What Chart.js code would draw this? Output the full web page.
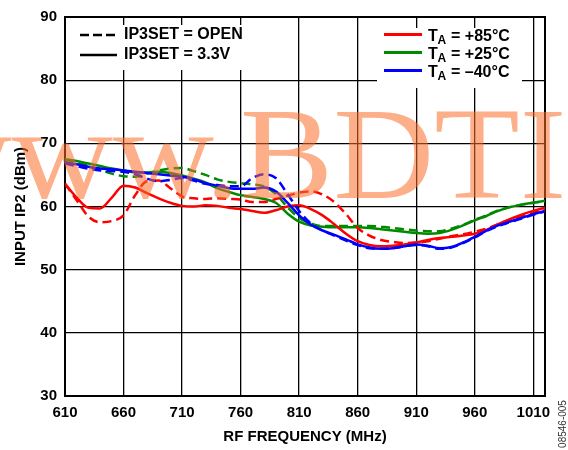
<!DOCTYPE html>
<html>
<head>
<meta charset="utf-8">
<script src="https://cdn.jsdelivr.net/npm/chart.js@4.4.0/dist/chart.umd.min.js"></script>
<style>
html,body{margin:0;padding:0;background:#fff;}
</style>
</head>
<body>
<canvas id="ip2chart" width="568" height="450"></canvas>
<script>
// RF frequency (MHz)
const freq = [610,620,630,640,650,660,670,680,690,700,710,720,730,740,750,760,770,780,790,800,
              810,820,830,840,850,860,870,880,890,900,910,920,930,940,950,960,970,980,990,1000,1010,1020];

// input IP2 (dBm), IP3SET = 3.3V (solid)
const red33   = [63.6,61.4,59.8,59.7,61.4,63.3,63.0,62.1,61.3,60.6,60.1,60.0,60.2,60.1,59.8,59.6,59.3,59.0,59.4,60.0,
                 60.2,59.6,58.6,57.2,55.7,54.5,53.9,53.7,53.8,54.0,54.3,54.7,55.0,55.2,55.4,55.7,56.3,57.2,58.0,58.7,59.3,59.8];
const green33 = [67.5,67.2,66.8,66.4,66.0,65.7,65.4,65.4,65.5,65.3,64.9,64.4,63.8,62.9,62.3,61.8,61.5,61.2,60.6,58.9,
                 57.6,57.0,56.8,56.7,56.7,56.7,56.6,56.4,56.2,56.0,55.8,55.7,55.8,56.3,57.0,57.8,58.5,59.3,59.9,60.3,60.6,60.9];
const blue33  = [67.0,66.7,66.3,66.0,65.9,65.7,65.5,65.3,65.1,64.9,64.7,64.3,63.7,63.3,62.9,62.8,62.8,63.0,62.4,60.6,
                 58.6,57.1,56.2,55.5,54.8,54.0,53.5,53.3,53.4,53.7,54.0,53.8,53.4,53.6,54.3,55.2,56.2,57.0,57.6,58.2,58.8,59.3];

// input IP2 (dBm), IP3SET = OPEN (dashed)
const redOpen   = [63.6,61.0,58.4,57.5,57.7,58.6,61.8,64.0,64.1,62.9,61.6,61.3,61.2,61.3,61.2,61.1,60.7,60.7,61.2,61.7,
                   62.2,62.4,61.9,60.7,58.8,56.6,55.4,54.7,54.4,54.2,54.3,54.5,54.9,55.3,55.6,56.0,56.5,57.2,57.9,58.5,59.0,59.5];
const greenOpen = [67.4,67.0,66.4,65.8,65.2,64.8,64.7,65.2,65.7,66.0,66.1,65.6,65.0,64.3,63.9,63.7,63.5,63.2,62.0,59.9,
                   58.2,57.3,56.9,56.9,56.9,56.9,56.9,56.8,56.6,56.4,56.2,56.1,56.1,56.5,57.1,57.9,58.6,59.4,59.9,60.3,60.6,60.8];
const blueOpen  = [66.8,66.4,66.0,65.7,65.6,65.5,65.1,64.4,64.0,64.2,64.5,64.1,63.6,63.4,63.2,63.2,64.5,65.1,64.5,62.0,
                   59.3,57.3,56.2,55.4,54.6,53.9,53.4,53.3,53.4,53.7,53.9,53.7,53.3,53.5,54.2,55.1,56.1,56.9,57.5,58.1,58.7,59.2];

const xTicks = [610,660,710,760,810,860,910,960,1010,1020];
const tempLabels = ['+85°C', '+25°C', '–40°C'];

const RED = '#ff0000', GREEN = '#008a00', BLUE = '#0000ff';
const FONT = "'Liberation Sans', Arial, sans-serif";

function pts(arr) {
  return arr.map((v, i) => ({x: freq[i], y: v}));
}
function line(label, arr, color, dashed) {
  return {
    label: label,
    data: pts(arr),
    borderColor: color,
    borderWidth: 2.5,
    borderDash: dashed ? [9, 5] : [],
    pointRadius: 0,
    fill: false,
    cubicInterpolationMode: 'monotone'
  };
}

const extras = {
  id: 'extras',
  beforeDatasetsDraw(chart) {
    const ctx = chart.ctx, a = chart.chartArea;
    ctx.save();
    // white boxes behind the two legends
    ctx.fillStyle = '#fff';
    ctx.fillRect(67, 25, 180, 45);
    ctx.fillRect(377, 28, 145, 60);
    ctx.strokeStyle = '#000';
    ctx.lineWidth = 2;
    ctx.strokeRect(a.left, a.top, a.right - a.left, a.bottom - a.top);
    ctx.restore();
  },
  afterDraw(chart) {
    const ctx = chart.ctx;
    ctx.save();
    // left legend: line styles
    ctx.strokeStyle = '#000';
    ctx.lineWidth = 2.5;
    ctx.setLineDash([9, 4]);
    ctx.beginPath(); ctx.moveTo(80, 35); ctx.lineTo(117, 35); ctx.stroke();
    ctx.setLineDash([]);
    ctx.beginPath(); ctx.moveTo(80, 55); ctx.lineTo(117, 55); ctx.stroke();
    ctx.fillStyle = '#000';
    ctx.font = 'bold 16px ' + FONT;
    ctx.textBaseline = 'middle';
    ctx.textAlign = 'left';
    ctx.fillText('IP3SET = OPEN', 124, 35);
    ctx.fillText('IP3SET = 3.3V', 124, 55);

    // right legend: temperatures
    const cols = [RED, GREEN, BLUE];
    const rows = [34.5, 52.5, 70.5];
    for (let i = 0; i < 3; i++) {
      const y = rows[i];
      ctx.strokeStyle = cols[i];
      ctx.lineWidth = 3;
      ctx.beginPath(); ctx.moveTo(384, y); ctx.lineTo(422, y); ctx.stroke();
      ctx.fillStyle = '#000';
      ctx.font = 'bold 16px ' + FONT;
      ctx.textBaseline = 'alphabetic';
      ctx.fillText('T', 428, y + 6);
      ctx.font = 'bold 12px ' + FONT;
      ctx.fillText('A', 437.5, y + 9);
      ctx.font = 'bold 16px ' + FONT;
      ctx.fillText('= ' + tempLabels[i], 451, y + 6);
    }

    // figure code on the right edge
    ctx.translate(563, 424);
    ctx.rotate(-Math.PI / 2);
    ctx.font = '10px ' + FONT;
    ctx.fillStyle = '#333';
    ctx.textAlign = 'center';
    ctx.textBaseline = 'middle';
    ctx.fillText('08546-005', 0, 0);
    ctx.restore();

    // watermark
    ctx.save();
    ctx.font = "132px 'Liberation Serif', 'Times New Roman', serif";
    ctx.fillStyle = 'rgba(250,110,40,0.55)';
    ctx.textBaseline = 'alphabetic';
    const pre = ctx.measureText('www.').width;
    ctx.scale(1.06, 1);
    ctx.fillText('www.BDTI', 240 / 1.06 - pre, 198);
    ctx.restore();
  }
};

new Chart(document.getElementById('ip2chart'), {
  type: 'line',
  data: {
    datasets: [
      line('-40 3.3V', blue33, BLUE, false),
      line('-40 OPEN', blueOpen, BLUE, true),
      line('+85 3.3V', red33, RED, false),
      line('+85 OPEN', redOpen, RED, true),
      line('+25 3.3V', green33, GREEN, false),
      line('+25 OPEN', greenOpen, GREEN, true)
    ]
  },
  options: {
    responsive: false,
    animation: false,
    devicePixelRatio: 1,
    layout: {padding: {left: 0, right: 23, top: 14, bottom: 0}},
    plugins: {legend: {display: false}, tooltip: {enabled: false}},
    scales: {
      x: {
        type: 'linear',
        min: 610,
        max: 1020,
        afterBuildTicks(scale) {
          scale.ticks = xTicks.map(v => ({value: v}));
        },
        afterFit(scale) { scale.height = 54; },
        grid: {color: '#000', lineWidth: 1.3, drawTicks: false},
        border: {display: false},
        ticks: {
          color: '#000',
          padding: 8,
          maxRotation: 0,
          autoSkip: false,
          font: {family: FONT, size: 15, weight: 'bold'},
          callback: v => (v === 1020 ? '' : v)
        },
        title: {
          display: true,
          text: 'RF FREQUENCY (MHz)',
          color: '#000',
          font: {family: FONT, size: 15, weight: 'bold'},
          padding: {top: 0, bottom: 4}
        }
      },
      y: {
        min: 30,
        max: 90,
        afterFit(scale) { scale.width = 65; },
        grid: {color: '#000', lineWidth: 1.3, drawTicks: false},
        border: {display: false},
        ticks: {
          stepSize: 10,
          color: '#000',
          padding: 8,
          font: {family: FONT, size: 15, weight: 'bold'}
        },
        title: {
          display: true,
          text: 'INPUT IP2 (dBm)',
          color: '#000',
          font: {family: FONT, size: 15, weight: 'bold'},
          padding: {top: 12, bottom: 0}
        }
      }
    }
  },
  plugins: [extras]
});
</script>
</body>
</html>
